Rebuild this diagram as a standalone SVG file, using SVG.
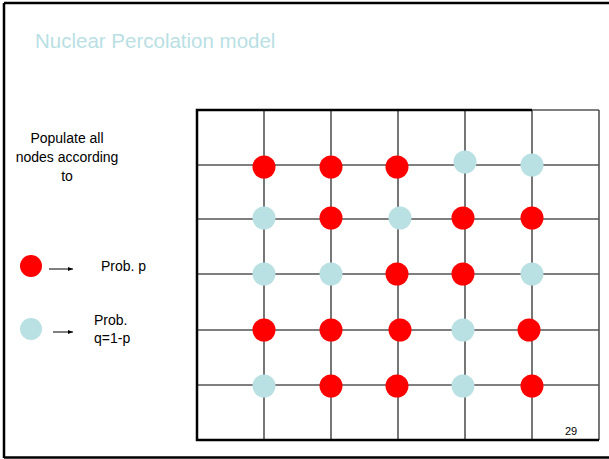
<svg xmlns="http://www.w3.org/2000/svg" width="609" height="459" viewBox="0 0 609 459">
<style>
text{font-family:"Liberation Sans",Arial,sans-serif;fill:#000}
.title{font-size:20.5px;fill:#b9e0e4}
.lbl{font-size:14px}
.g{stroke:#555;stroke-width:1.6;fill:none}
.b{stroke:#000;stroke-width:2.5;fill:none}
.r{fill:#ff0000}
.c{fill:#b9e0e3}
</style>
<defs>
<marker id="ah" viewBox="0 0 10 10" refX="10" refY="5" markerWidth="5" markerHeight="5" orient="auto"><path d="M0,1 L10,5 L0,9 z" fill="#000"/></marker>
</defs>
<rect width="609" height="459" fill="#fff"/>
<g id="frame">
<line x1="4" y1="3" x2="609" y2="3" stroke="#000" stroke-width="2.5"/>
<line x1="4" y1="3" x2="4" y2="458" stroke="#000" stroke-width="2.5"/>
<line x1="4" y1="457.5" x2="609" y2="457.5" stroke="#000" stroke-width="2.5"/>
</g>
<text class="title" x="35" y="48">Nuclear Percolation model</text>
<g id="intro">
<text class="lbl" x="67" y="143" text-anchor="middle">Populate all</text>
<text class="lbl" x="67" y="162" text-anchor="middle">nodes according</text>
<text class="lbl" x="67" y="181" text-anchor="middle">to</text>
</g>
<g id="legend">
<circle class="r" cx="31" cy="266" r="11"/>
<line x1="49" y1="269" x2="73" y2="269" stroke="#000" stroke-width="1" marker-end="url(#ah)"/>
<text class="lbl" x="101" y="271">Prob. p</text>
<circle class="c" cx="31" cy="329" r="11"/>
<line x1="53" y1="332" x2="73" y2="332" stroke="#000" stroke-width="1" marker-end="url(#ah)"/>
<text class="lbl" x="94" y="325">Prob.</text>
<text class="lbl" x="94" y="343">q=1-p</text>
</g>
<g id="connectors">
<path class="g" d="M264,110V440 M331,110V440 M398,110V440 M465,110V440 M532,110V440 M599,110V440"/>
<path class="g" d="M197,165H599 M197,219H599 M197,274H599 M197,330H599 M197,385H599"/>
<path class="g" d="M532,110H599"/>
<path class="b" d="M532,110H197V440H599"/>
</g>
<g id="nodes">
<circle class="r" cx="264" cy="167" r="11.5"/>
<circle class="r" cx="331" cy="167" r="11.5"/>
<circle class="r" cx="397" cy="167" r="11.5"/>
<circle class="c" cx="465" cy="162" r="11.5"/>
<circle class="c" cx="532" cy="165" r="11.5"/>
<circle class="c" cx="264" cy="218" r="11.5"/>
<circle class="r" cx="331" cy="218" r="11.5"/>
<circle class="c" cx="400" cy="218" r="11.5"/>
<circle class="r" cx="463" cy="218" r="11.5"/>
<circle class="r" cx="532" cy="218" r="11.5"/>
<circle class="c" cx="264" cy="274" r="11.5"/>
<circle class="c" cx="331" cy="274" r="11.5"/>
<circle class="r" cx="397" cy="274" r="11.5"/>
<circle class="r" cx="463" cy="274" r="11.5"/>
<circle class="c" cx="532" cy="274" r="11.5"/>
<circle class="r" cx="264" cy="330" r="11.5"/>
<circle class="r" cx="331" cy="330" r="11.5"/>
<circle class="r" cx="400" cy="330" r="11.5"/>
<circle class="c" cx="463" cy="330" r="11.5"/>
<circle class="r" cx="529" cy="330" r="11.5"/>
<circle class="c" cx="264" cy="386" r="11.5"/>
<circle class="r" cx="331" cy="386" r="11.5"/>
<circle class="r" cx="397" cy="386" r="11.5"/>
<circle class="c" cx="463" cy="386" r="11.5"/>
<circle class="r" cx="532" cy="386" r="11.5"/>
</g>
<text x="571" y="435" style="font-size:11px" text-anchor="middle">29</text>
</svg>
